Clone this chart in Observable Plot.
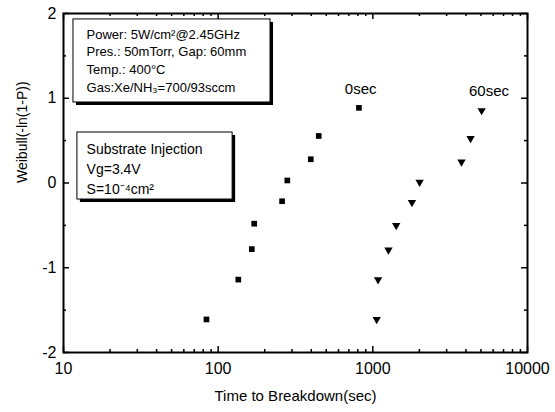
<!DOCTYPE html>
<html><head><meta charset="utf-8">
<script src="https://cdn.jsdelivr.net/npm/d3@7"></script>
<script src="https://cdn.jsdelivr.net/npm/@observablehq/plot@0.6"></script>
<style>body{margin:0;background:#fff} #chart{width:555px;height:412px}</style>
</head><body><div id="chart"></div>
<script>
// 0 sec series (squares)
const time0 = [84, 135, 165, 171, 259, 280, 397, 447, 813];
const weib0 = [-1.61, -1.14, -0.78, -0.48, -0.215, 0.03, 0.28, 0.555, 0.887];
// 60 sec series (down triangles)
const time60 = [1059, 1081, 1262, 1416, 1790, 2006, 3742, 4284, 5050];
const weib60 = [-1.61, -1.14, -0.79, -0.50, -0.23, 0.01, 0.25, 0.527, 0.855];
const seriesLabels = ["0sec", "60sec"];
const labelTime = [834, 5640];
const labelWeib = [1.105, 1.08];
const xTicks = [10, 100, 1000, 10000];
const yTicks = [-2, -1, 0, 1, 2];
const yMinor = [-1.5, -0.5, 0.5, 1.5];
const xMinor = [10, 100, 1000].flatMap(d => [2,3,4,5,6,7,8,9].map(k => k * d));
const xTitle = "Time to Breakdown(sec)";
const yTitle = "Weibull(-ln(1-P))";
const box1Lines = ["Power: 5W/cm²@2.45GHz", "Pres.: 50mTorr, Gap: 60mm", "Temp.: 400°C", "Gas:Xe/NH₃=700/93sccm"];
const box2Lines = ["Substrate Injection", "Vg=3.4V", "S=10⁻⁴cm²"];
// annotation boxes in data units [x1, x2, y1, y2], text anchor [x, y]
const box1 = {x1: 11.6, x2: 218, y1: 0.95, y2: 1.93, tx: 14.1, ty: 1.457};
const box2 = {x1: 12.3, x2: 124, y1: -0.195, y2: 0.596, tx: 14.1, ty: 0.183};

const d0 = time0.map((t, i) => ({t, w: weib0[i]}));
const d60 = time60.map((t, i) => ({t, w: weib60[i]}));
const labs = seriesLabels.map((s, i) => ({s, t: labelTime[i], w: labelWeib[i]}));
const W = 555, H = 412, mL = 63, mR = 28, mT = 13, mB = 60;
const fh = H - mT - mB, fw = W - mL - mR;

const chart = Plot.plot({
  width: W, height: H,
  marginLeft: mL, marginRight: mR, marginTop: mT, marginBottom: mB,
  style: {fontFamily: "'Liberation Sans', Arial, sans-serif", background: "#fff", color: "#000"},
  x: {type: "log", domain: [10, 10000]},
  y: {domain: [-2, 2]},
  marks: [
    // boxes with shadows
    ...[box1, box2].flatMap(b => [
      Plot.rect([b], {x1: "x1", x2: "x2", y1: "y1", y2: "y2", fill: "#000", dx: 3, dy: 3}),
      Plot.rect([b], {x1: "x1", x2: "x2", y1: "y1", y2: "y2", fill: "#fff", stroke: "#000", strokeWidth: 1})
    ]),
    Plot.text([box1Lines.join("\n")], {x: () => box1.tx, y: () => box1.ty, text: d => d, textAnchor: "start", lineAnchor: "middle", lineHeight: 1.36, fontSize: 13, fill: "#000"}),
    Plot.text([box2Lines.join("\n")], {x: () => box2.tx, y: () => box2.ty, text: d => d, textAnchor: "start", lineAnchor: "middle", lineHeight: 1.43, fontSize: 14, fill: "#000"}),
    // frame and inward ticks
    Plot.frame({stroke: "#000", strokeWidth: 2}),
    Plot.tickX(xTicks, {x: d => d, insetTop: fh - 6, strokeWidth: 1.5}),
    Plot.tickX(xTicks, {x: d => d, insetBottom: fh - 6, strokeWidth: 1.5}),
    Plot.tickX(xMinor, {x: d => d, insetTop: fh - 3, strokeWidth: 1.5}),
    Plot.tickX(xMinor, {x: d => d, insetBottom: fh - 3, strokeWidth: 1.5}),
    Plot.tickY(yTicks, {y: d => d, insetRight: fw - 6, strokeWidth: 1.5}),
    Plot.tickY(yTicks, {y: d => d, insetLeft: fw - 6, strokeWidth: 1.5}),
    Plot.tickY(yMinor, {y: d => d, insetRight: fw - 3, strokeWidth: 1.5}),
    Plot.tickY(yMinor, {y: d => d, insetLeft: fw - 3, strokeWidth: 1.5}),
    // axes
    Plot.axisX(xTicks, {tickSize: 0, tickPadding: 10, tickFormat: d => String(d), fontSize: 16, label: null}),
    Plot.axisY(yTicks, {tickSize: 0, tickPadding: 7, tickFormat: d => d < 0 ? "-" + Math.abs(d) : String(d), fontSize: 16, label: null}),
    Plot.text([xTitle], {frameAnchor: "bottom", dy: 48, text: d => d, fontSize: 15, fill: "#000"}),
    Plot.text([yTitle], {frameAnchor: "left", dx: -41, rotate: -90, text: d => d, fontSize: 14, fill: "#000"}),
    // data
    Plot.dot(d0, {x: "t", y: "w", symbol: "square", r: 3.2, fill: "#000", stroke: "none"}),
    Plot.dot(d60, {x: "t", y: "w", symbol: "triangle", rotate: 180, r: 3.1, fill: "#000", stroke: "none"}),
    Plot.text(labs, {x: "t", y: "w", text: "s", fontSize: 15, fill: "#000"})
  ]
});
document.getElementById("chart").appendChild(chart);
</script>
</body></html>
